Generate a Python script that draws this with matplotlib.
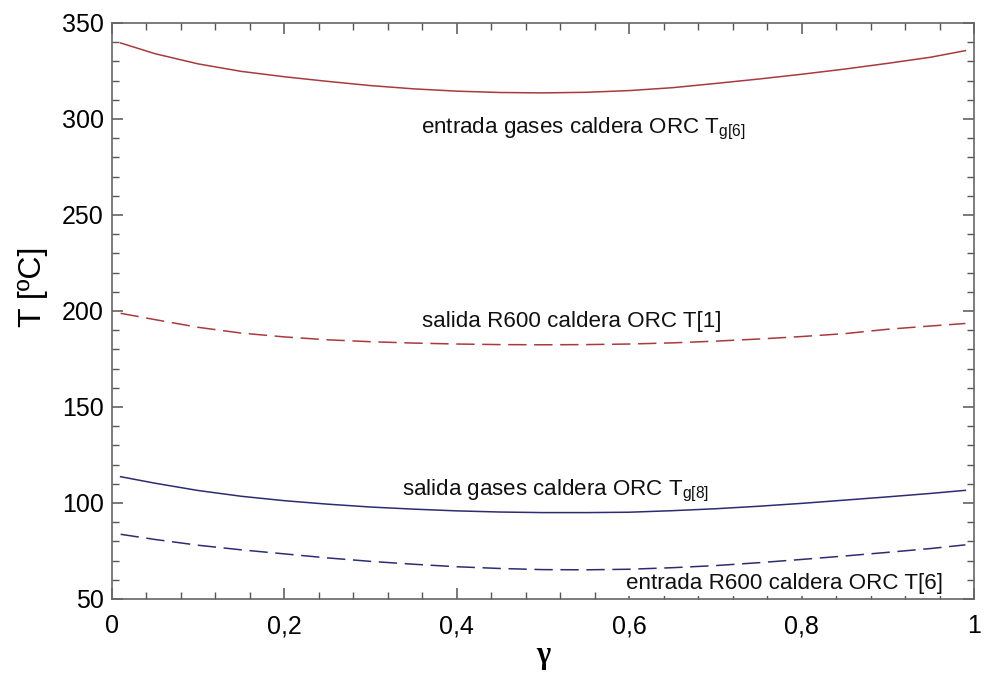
import matplotlib
matplotlib.use("Agg")
import matplotlib.pyplot as plt
from matplotlib.ticker import MultipleLocator, FuncFormatter

plt.rcParams["font.family"] = ["Liberation Sans", "DejaVu Sans"]
plt.rcParams["mathtext.fontset"] = "custom"
plt.rcParams["mathtext.rm"] = "Liberation Sans"
plt.rcParams["mathtext.it"] = "Liberation Sans"

# gamma (fraction) values
gamma = [0.01, 0.05, 0.10, 0.15, 0.20, 0.25, 0.30, 0.35, 0.40, 0.45, 0.50,
         0.55, 0.60, 0.65, 0.70, 0.75, 0.80, 0.85, 0.90, 0.95, 0.99]

# entrada gases caldera ORC Tg[6]
t_g6 = [339.6, 334.0, 328.7, 324.8, 322.0, 319.6, 317.4, 315.7, 314.5, 313.8, 313.6,
        313.9, 314.8, 316.3, 318.5, 320.8, 323.3, 326.0, 329.0, 332.2, 335.6]
# salida R600 caldera ORC T[1]
t_1 = [198.8, 195.5, 191.5, 188.5, 186.5, 185.0, 184.0, 183.3, 182.8, 182.5, 182.4,
       182.5, 182.8, 183.4, 184.3, 185.4, 186.7, 188.2, 190.5, 192.2, 193.5]
# salida gases caldera ORC Tg[8]
t_g8 = [113.7, 110.3, 106.5, 103.5, 101.2, 99.4, 97.9, 96.8, 95.9, 95.3, 95.0,
        95.0, 95.2, 96.0, 97.0, 98.3, 99.8, 101.5, 103.2, 105.0, 106.6]
# entrada R600 caldera ORC T[6]
t_6 = [83.7, 81.0, 78.0, 75.6, 73.5, 71.4, 69.6, 68.1, 66.8, 65.9, 65.3,
       65.2, 65.5, 66.3, 67.4, 68.9, 70.6, 72.4, 74.3, 76.3, 78.2]

RED = "#a83a3e"
BLUE = "#2c2c72"

fig = plt.figure(figsize=(9.87, 6.73), dpi=100)
ax = fig.add_axes([112 / 987, 1 - 599 / 673, 862 / 987, 576 / 673])

ax.plot(gamma, t_g6, color=RED, lw=1.1)
ax.plot(gamma, t_1, color=RED, lw=1.1, dashes=(12, 5))
ax.plot(gamma, t_g8, color=BLUE, lw=1.1)
ax.plot(gamma, t_6, color=BLUE, lw=1.1, dashes=(12, 5))

txt = dict(fontsize=16.1, color="#111111", ha="left", va="baseline")
ax.text(0.358, 292.5, r"entrada gases caldera ORC T$_{\mathrm{g[6]}}$", **txt)
ax.text(0.360, 191.8, "salida R600 caldera ORC T[1]", **txt)
ax.text(0.336, 104.2, r"salida gases caldera ORC T$_{\mathrm{g[8]}}$", **txt)
ax.text(0.596, 55.0, "entrada R600 caldera ORC T[6]",
        bbox=dict(facecolor="white", edgecolor="none", pad=1), **txt)

ax.set_xlim(0, 1)
ax.set_ylim(50, 350)
ax.xaxis.set_major_locator(MultipleLocator(0.2))
ax.xaxis.set_minor_locator(MultipleLocator(0.04))
ax.yaxis.set_major_locator(MultipleLocator(50))
ax.yaxis.set_minor_locator(MultipleLocator(10))
ax.xaxis.set_major_formatter(FuncFormatter(lambda v, p: f"{v:g}".replace(".", ",")))

for s in ax.spines.values():
    s.set_color("#666666")
    s.set_linewidth(1.2)
ax.tick_params(which="both", direction="in", top=True, right=True, color="#555555")
ax.tick_params(which="major", length=8, width=1.1, labelsize=18)
ax.tick_params(which="minor", length=5, width=1.0)
ax.tick_params(axis="x", which="major", pad=11)
ax.tick_params(axis="y", which="major", pad=6)

fig.text(33 / 987, 1 - 287 / 673, "T [ºC]", rotation=90, fontsize=23,
         ha="center", va="center")
fig.text(543 / 987, 1 - 655 / 673, "γ", fontsize=22, fontweight="bold",
         family="Liberation Serif", ha="center", va="center")

fig.savefig("out.png", dpi=100)
